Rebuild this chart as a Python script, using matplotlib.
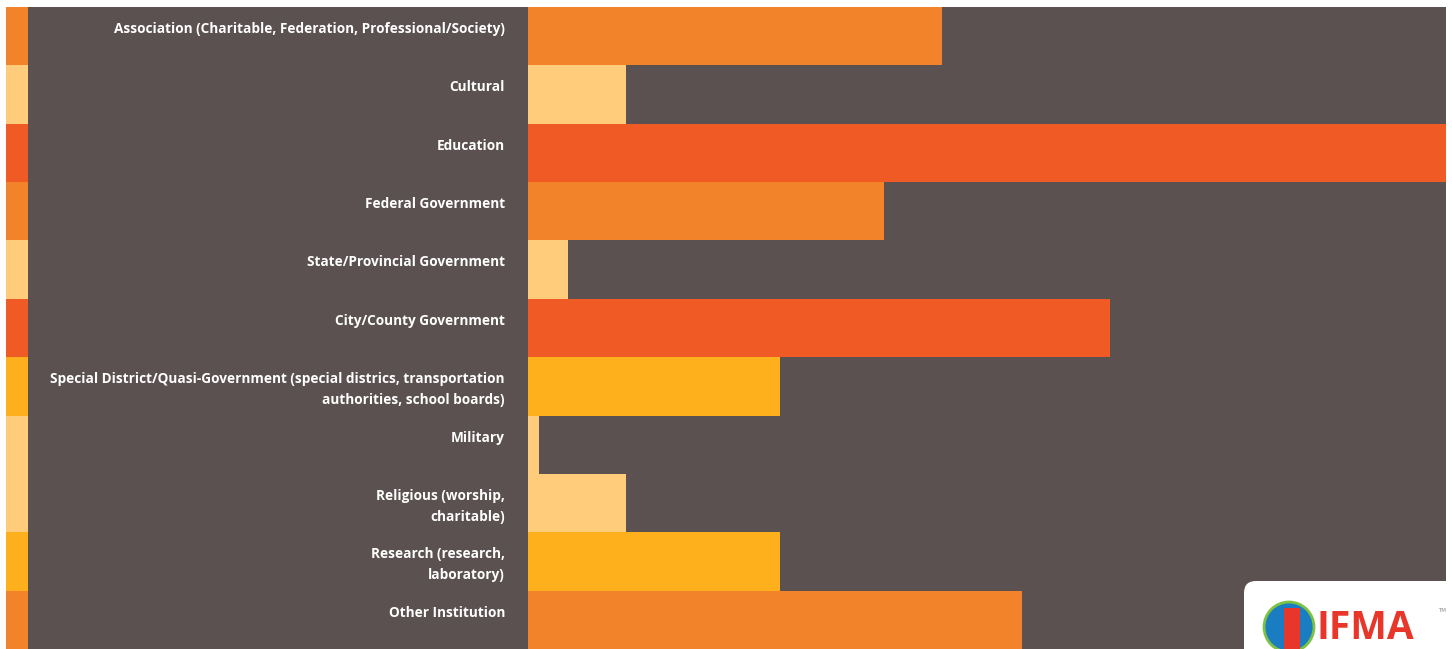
import matplotlib
matplotlib.use("Agg")
import matplotlib.pyplot as plt
from matplotlib.patches import Rectangle, FancyBboxPatch, Ellipse
from matplotlib.transforms import blended_transform_factory

categories = [
    "Association (Charitable, Federation, Professional/Society)",
    "Cultural",
    "Education",
    "Federal Government",
    "State/Provincial Government",
    "City/County Government",
    "Special District/Quasi-Government (special districs, transportation\nauthorities, school boards)",
    "Military",
    "Religious (worship,\ncharitable)",
    "Research (research,\nlaboratory)",
    "Other Institution",
]
values = [11.77, 2.8, 26.1, 10.12, 1.14, 16.55, 7.17, 0.31, 2.8, 7.17, 14.05]
colors = ["#F3832A", "#FECC7B", "#F05A24", "#F3832A", "#FECC7B", "#F05A24",
          "#FDB01B", "#FECC7B", "#FECC7B", "#FDB01B", "#F3832A"]
BG = "#5A5150"

W, H = 1452, 649
fig = plt.figure(figsize=(W / 100, H / 100), dpi=100, facecolor="white")

# dark panel (background axes)
bgax = fig.add_axes([6 / W, 0, (1446 - 6) / W, (649 - 7) / H], zorder=-5)
bgax.set_facecolor(BG)
bgax.set_xticks([])
bgax.set_yticks([])
for s in bgax.spines.values():
    s.set_visible(False)

n = len(categories)
top_px, bot_px = 7, 649
ax = fig.add_axes([528 / W, 0, (1446 - 528) / W, (bot_px - top_px) / H], zorder=1)
ypos = list(range(n))
ax.barh(ypos, values, height=1.0, color=colors, edgecolor="none")
ax.set_xlim(0, 26.1)
ax.set_ylim(n - 0.5, -0.5)
ax.axis("off")

# left color strip
ax2 = fig.add_axes([6 / W, 0, (28 - 6) / W, (bot_px - top_px) / H], zorder=1)
ax2.barh(ypos, [1] * n, height=1.0, color=colors, edgecolor="none")
ax2.set_xlim(0, 1)
ax2.set_ylim(n - 0.5, -0.5)
ax2.axis("off")

# labels
row_px = (bot_px - top_px) / n
off = 15 / row_px
tr = blended_transform_factory(ax.transAxes, ax.transData)
for i, lab in enumerate(categories):
    ax.text((505 - 528) / 918, i - 0.5 + off, lab, transform=tr, ha="right",
            va="top", color="white", fontsize=9.8, fontweight="bold",
            family="Open Sans", linespacing=1.6, clip_on=False)

# logo box
logo = fig.add_axes([0, 0, 1, 1], zorder=10)
logo.set_xlim(0, W)
logo.set_ylim(H, 0)
logo.axis("off")
logo.add_patch(FancyBboxPatch((1244, 581), 240, 100,
                              boxstyle="round,pad=0,rounding_size=12",
                              facecolor="white", edgecolor="none"))
logo.add_patch(Ellipse((1289, 627), 50, 50, facecolor="#1B7DC1", edgecolor="none"))
logo.add_patch(Ellipse((1289, 627), 50, 50, facecolor="none", edgecolor="#7DC242",
                       linewidth=2, zorder=3))
logo.add_patch(Rectangle((1284, 608), 16, 42, facecolor="#E8372A", edgecolor="none",
                         zorder=4))
logo.text(1316, 648, "IFMA", color="#E8372A", fontsize=28, fontweight="bold",
          family="Open Sans", ha="left", va="bottom")
logo.text(1438, 611, "TM", color="#888888", fontsize=4, ha="left", va="center")

fig.savefig("out.png", dpi=100, facecolor="white")
